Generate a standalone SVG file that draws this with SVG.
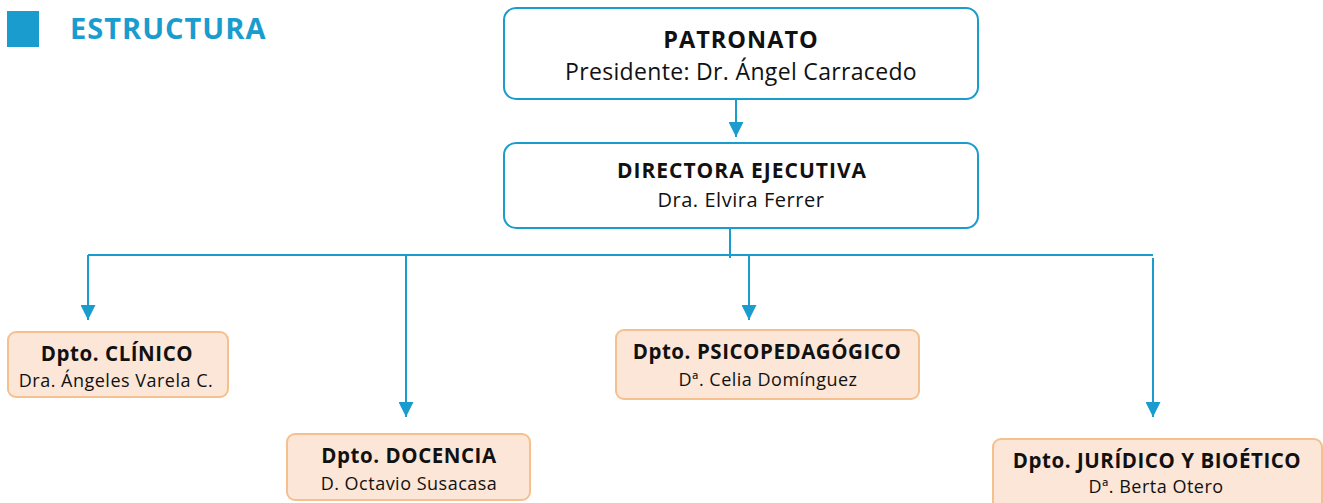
<svg xmlns="http://www.w3.org/2000/svg" width="1323" height="503" viewBox="0 0 1323 503">
<defs>
<style>
text{font-family:"Open Sans","Liberation Sans",sans-serif;fill:#111;text-anchor:middle}
.b{font-weight:700}
.h1{font-size:23.5px;letter-spacing:1px}
.h2{font-size:23px;letter-spacing:0.33px}
.d1{font-size:21px;letter-spacing:1px}
.d2{font-size:20px;letter-spacing:0.55px}
.t1{font-size:20.5px;letter-spacing:0.55px}
.t2{font-size:18px;letter-spacing:0.5px}
.top{fill:#fff;stroke:#1a9ccf;stroke-width:2}
.dept{fill:#fce6d7;stroke:#f6c08e;stroke-width:2}
.ln{fill:none;stroke:#1a9ccf;stroke-width:2}
</style>
<marker id="ah" viewBox="0 0 10 10" refX="10" refY="5" markerWidth="7.5" markerHeight="7.5" markerUnits="strokeWidth" orient="auto">
<path d="M0,0 L10,5 L0,10 Z" fill="#1a9ccf"/>
</marker>
</defs>
<g id="title">
<rect x="7" y="11" width="32" height="36" fill="#1a9ccf"/>
<text x="70" y="39" style="text-anchor:start;fill:#1a9ccf;font-size:29px;letter-spacing:1px" class="b">ESTRUCTURA</text>
</g>
<g id="connectors">
<path class="ln" d="M736,99 V137" marker-end="url(#ah)"/>
<path class="ln" d="M730,228 V258"/>
<path class="ln" d="M88,255 H1153"/>
<path class="ln" d="M88,255 V320" marker-end="url(#ah)"/>
<path class="ln" d="M406,255 V417" marker-end="url(#ah)"/>
<path class="ln" d="M749,255 V320" marker-end="url(#ah)"/>
<path class="ln" d="M1153,258 V417" marker-end="url(#ah)"/>
</g>
<g id="patronato">
<rect class="top" x="504" y="8" width="474" height="91" rx="12"/>
<text x="741" y="48" class="b h1">PATRONATO</text>
<text x="741" y="80" class="h2">Presidente: Dr. Ángel Carracedo</text>
</g>
<g id="directora">
<rect class="top" x="504" y="143" width="474" height="85" rx="12"/>
<text x="742" y="178" class="b d1">DIRECTORA EJECUTIVA</text>
<text x="741" y="207" class="d2">Dra. Elvira Ferrer</text>
</g>
<g id="clinico">
<rect class="dept" x="8" y="332" width="220" height="65" rx="8"/>
<text x="117" y="361" class="b t1">Dpto. CLÍNICO</text>
<text x="116" y="387" class="t2">Dra. Ángeles Varela C.</text>
</g>
<g id="docencia">
<rect class="dept" x="287" y="434" width="243" height="66" rx="8"/>
<text x="409" y="463" class="b t1">Dpto. DOCENCIA</text>
<text x="409" y="490" class="t2">D. Octavio Susacasa</text>
</g>
<g id="psico">
<rect class="dept" x="616" y="330" width="303" height="69" rx="8"/>
<text x="767" y="359" class="b t1">Dpto. PSICOPEDAGÓGICO</text>
<text x="768" y="386" class="t2">Dª. Celia Domínguez</text>
</g>
<g id="juridico">
<rect class="dept" x="993" y="439" width="329" height="80" rx="8"/>
<text x="1157" y="468" class="b t1">Dpto. JURÍDICO Y BIOÉTICO</text>
<text x="1156" y="493" class="t2">Dª. Berta Otero</text>
</g>
</svg>
